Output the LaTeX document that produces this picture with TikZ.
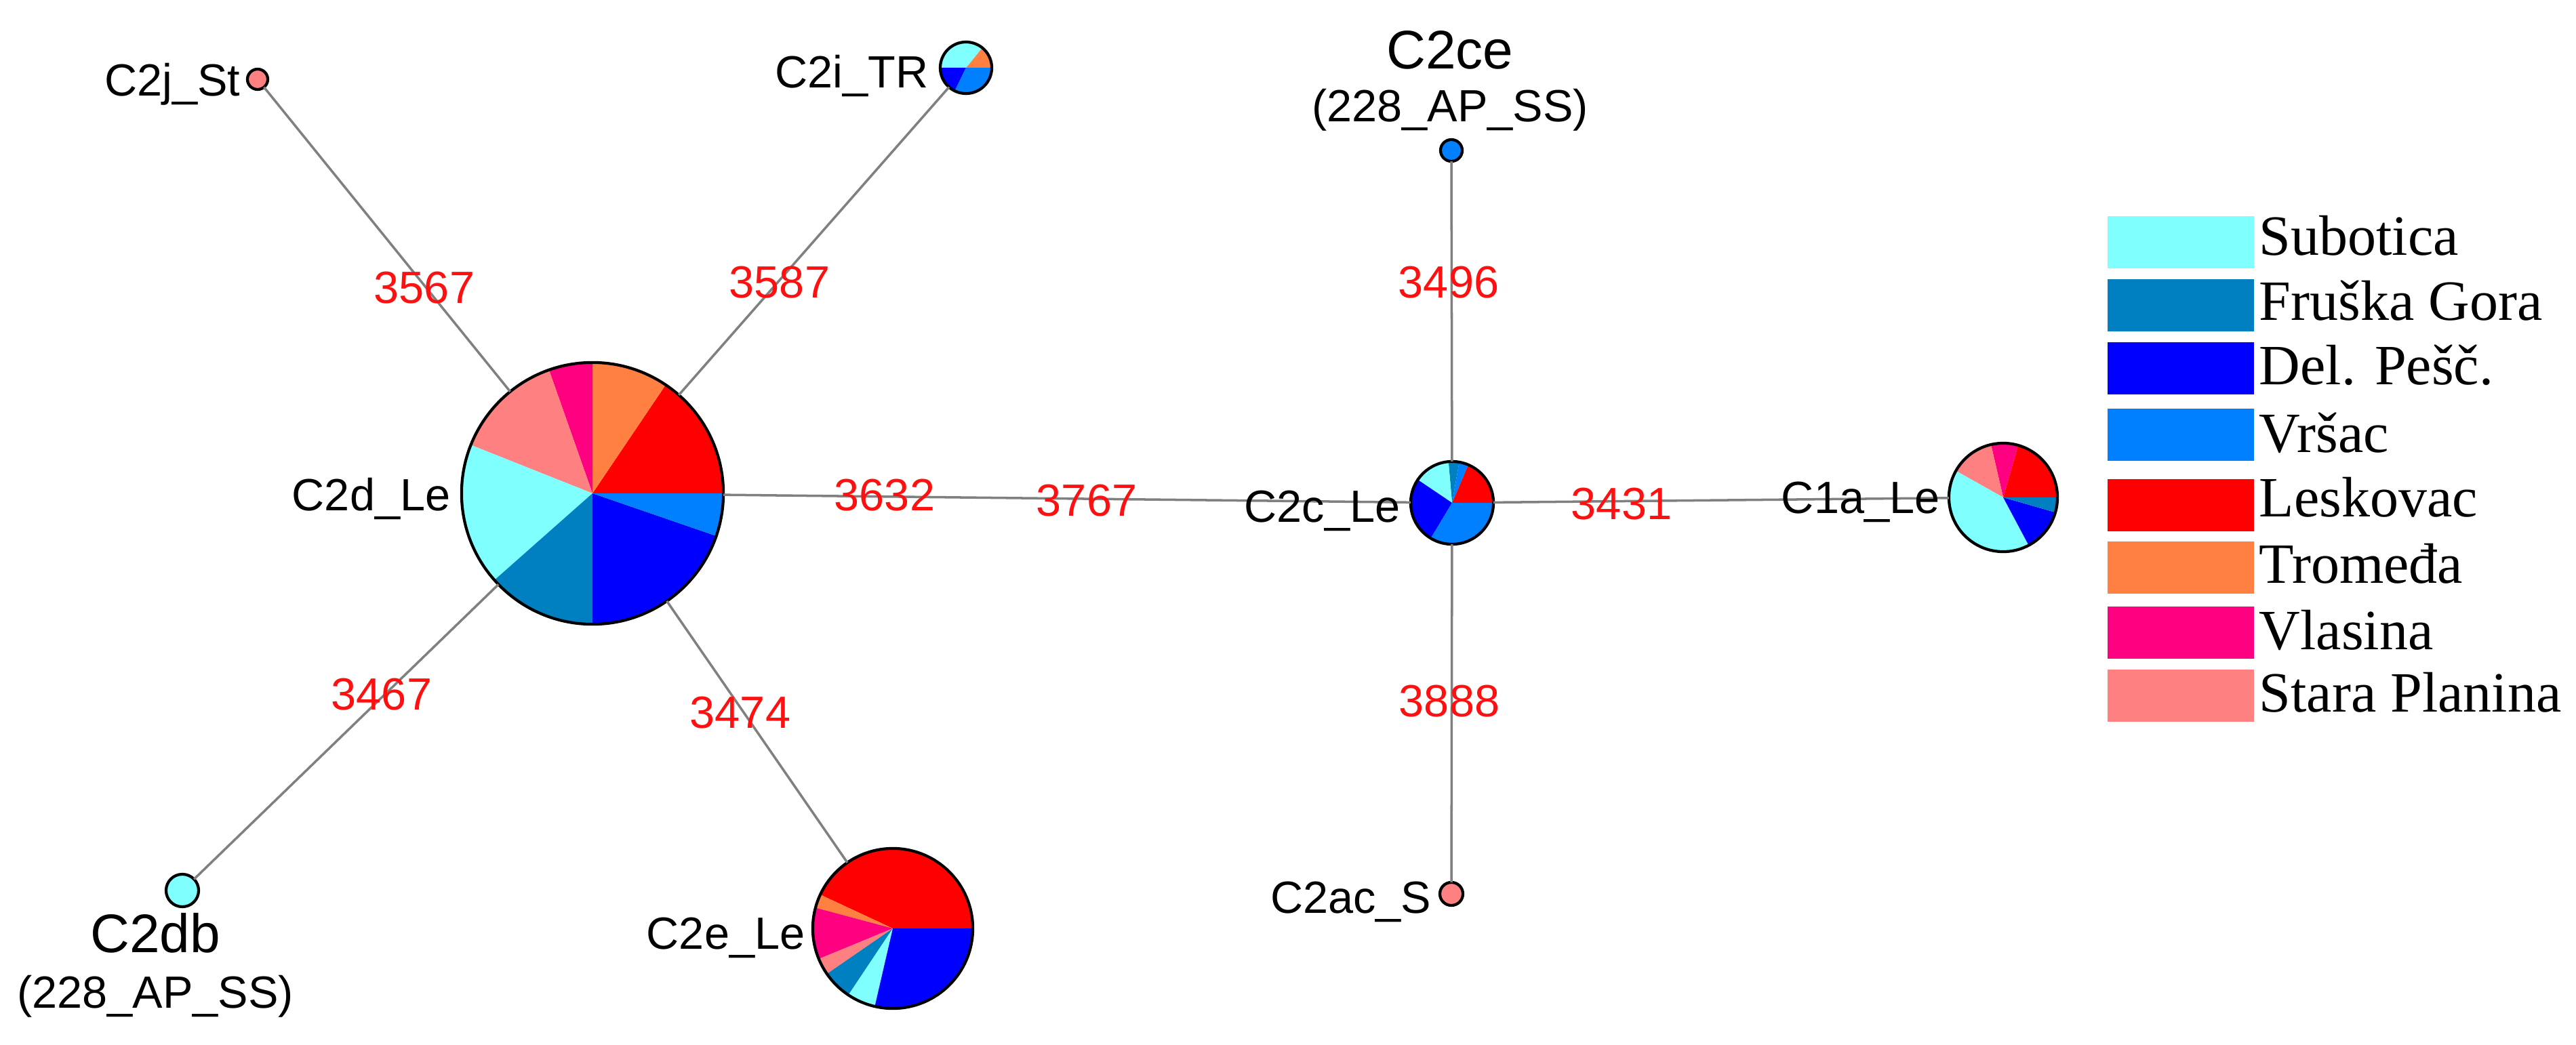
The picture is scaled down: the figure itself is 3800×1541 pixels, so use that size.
\documentclass[tikz,border=0pt]{standalone}
\usepackage{fontspec}
\setmainfont{Liberation Serif}
\newfontfamily\arialf{Liberation Sans}
\definecolor{cSub}{HTML}{80FFFF}
\definecolor{cFru}{HTML}{0080C0}
\definecolor{cDel}{HTML}{0000FF}
\definecolor{cVrs}{HTML}{0080FF}
\definecolor{cLes}{HTML}{FF0000}
\definecolor{cTro}{HTML}{FF8040}
\definecolor{cVla}{HTML}{FF0080}
\definecolor{cSta}{HTML}{FF8080}
\definecolor{cEdge}{HTML}{808080}
\definecolor{cNum}{HTML}{FF1010}
\newcommand{\pslice}[5]{\fill[#5] (#1) -- ++(#3:#2) arc[start angle=#3,end angle=#4,radius=#2] -- cycle;}
\tikzset{
  edge/.style={draw=cEdge, line width=1pt},
  pienode/.style={circle, draw=black, line width=1.2pt, inner sep=0pt, outer sep=0pt},
  lab/.style={font=\arialf\fontsize{18.95}{21}\selectfont, inner sep=0pt, anchor=base east},
  ttl/.style={font=\arialf\fontsize{22.8}{25}\selectfont, inner sep=0pt, anchor=base},
  elab/.style={font=\arialf\fontsize{18.95}{21}\selectfont, text=cNum, inner sep=0pt},
  legbox/.style={fill=#1, draw=none, anchor=north west, minimum width=2.16cm, minimum height=0.77cm, inner sep=0pt, outer sep=0pt},
  legtext/.style={font=\fontsize{23.9}{26}\selectfont, anchor=base west, inner sep=0pt}
}
\begin{document}
\begin{tikzpicture}[x=0.01cm,y=0.01cm]
\useasboundingbox (0,0) rectangle (3800,1541);
\fill[white] (0,0) rectangle (3800,1541);

% pie slices
\pslice{874,813}{193}{0}{56}{cLes}
\pslice{874,813}{193}{56}{90}{cTro}
\pslice{874,813}{193}{90}{109.4}{cVla}
\pslice{874,813}{193}{109.4}{158.3}{cSta}
\pslice{874,813}{193}{158.3}{221.5}{cSub}
\pslice{874,813}{193}{221.5}{270}{cFru}
\pslice{874,813}{193}{270}{341}{cDel}
\pslice{874,813}{193}{341}{360}{cVrs}

\pslice{1317,171}{118}{0}{155}{cLes}
\pslice{1317,171}{118}{155}{165}{cTro}
\pslice{1317,171}{118}{165}{202.4}{cVla}
\pslice{1317,171}{118}{202.4}{214.6}{cSta}
\pslice{1317,171}{118}{214.6}{236.3}{cFru}
\pslice{1317,171}{118}{236.3}{257}{cSub}
\pslice{1317,171}{118}{257}{360}{cDel}

\pslice{2142,799}{61}{0}{67}{cLes}
\pslice{2142,799}{61}{67}{80}{cVrs}
\pslice{2142,799}{61}{80}{95}{cFru}
\pslice{2142,799}{61}{95}{146}{cSub}
\pslice{2142,799}{61}{146}{239}{cDel}
\pslice{2142,799}{61}{239}{360}{cVrs}

\pslice{2955,807}{80}{0}{74}{cLes}
\pslice{2955,807}{80}{74}{103}{cVla}
\pslice{2955,807}{80}{103}{150.6}{cSta}
\pslice{2955,807}{80}{150.6}{298}{cSub}
\pslice{2955,807}{80}{298}{344}{cDel}
\pslice{2955,807}{80}{344}{360}{cFru}

\pslice{1425,1441}{38}{0}{51}{cTro}
\pslice{1425,1441}{38}{51}{180}{cSub}
\pslice{1425,1441}{38}{180}{244}{cDel}
\pslice{1425,1441}{38}{244}{360}{cVrs}

% haplotype nodes
\node[pienode, minimum size=3.86cm] (C2d) at (874,813) {};
\node[pienode, minimum size=2.36cm] (C2e) at (1317,171) {};
\node[pienode, minimum size=1.22cm] (C2c) at (2142,799) {};
\node[pienode, minimum size=1.6cm] (C1a) at (2955,807) {};
\node[pienode, minimum size=0.76cm] (C2i) at (1425,1441) {};
\node[pienode, fill=cSta, minimum size=0.30cm] (C2j) at (380,1424) {};
\node[pienode, fill=cVrs, minimum size=0.32cm] (C2ce) at (2141,1319) {};
\node[pienode, fill=cSta, minimum size=0.34cm] (C2ac) at (2141,222) {};
\node[pienode, fill=cSub, minimum size=0.48cm] (C2db) at (269,227) {};

% connectors
\draw[edge] (C2d) -- (C2j);
\draw[edge] (C2d) -- (C2i);
\draw[edge] (C2d) -- (C2db);
\draw[edge] (C2d) -- (C2e);
\draw[edge] (C2d) -- (C2c);
\draw[edge] (C2c) -- (C2ce);
\draw[edge] (C2c) -- (C2ac);
\draw[edge] (C2c) -- (C1a);

% node labels
\node[lab] (lC2j) at (355,1399) {C2j\_St};
\node[lab] (lC2i) at (1370,1411) {C2i\_TR};
\node[lab] (lC2d) at (665,788) {C2d\_Le};
\node[lab] (lC2c) at (2066,771) {C2c\_Le};
\node[lab] (lC1a) at (2862,784) {C1a\_Le};
\node[lab] (lC2e) at (1188,141) {C2e\_Le};
\node[lab] (lC2ac) at (2112,194) {C2ac\_S};
\node[ttl] (tC2ce) at (2139,1439) {C2ce};
\node[lab, anchor=base] (sC2ce) at (2139,1361) {(228\_AP\_SS)};
\node[ttl] (tC2db) at (229,136) {C2db};
\node[lab, anchor=base] (sC2db) at (229,54) {(228\_AP\_SS)};

% mutation-step labels
\node[elab] (e1) at (626,1116) {3567};
\node[elab] (e2) at (1150,1124) {3587};
\node[elab] (e3) at (2137,1124) {3496};
\node[elab] (e4) at (1305,810) {3632};
\node[elab] (e5) at (1603,802) {3767};
\node[elab] (e6) at (2392,797) {3431};
\node[elab] (e7) at (2138,506) {3888};
\node[elab] (e8) at (563,516) {3467};
\node[elab] (e9) at (1092,489) {3474};

% legend
\node[legbox=cSub] (k1) at (3109,1222) {};
\node[legbox=cFru] (k2) at (3109,1129) {};
\node[legbox=cDel] (k3) at (3109,1036) {};
\node[legbox=cVrs] (k4) at (3109,938) {};
\node[legbox=cLes] (k5) at (3109,834) {};
\node[legbox=cTro] (k6) at (3109,742) {};
\node[legbox=cVla] (k7) at (3109,646) {};
\node[legbox=cSta] (k8) at (3109,553) {};
\node[legtext] (t1) at (3332,1165) {Subotica};
\node[legtext] (t2) at (3332,1069) {Fruška Gora};
\node[legtext] (t3) at (3332,974) {Del. Pešč.};
\node[legtext] (t4) at (3332,874) {Vršac};
\node[legtext] (t5) at (3332,779) {Leskovac};
\node[legtext] (t6) at (3332,681) {Tromeđa};
\node[legtext] (t7) at (3332,583) {Vlasina};
\node[legtext] (t8) at (3332,491) {Stara Planina};
\end{tikzpicture}
\end{document}
